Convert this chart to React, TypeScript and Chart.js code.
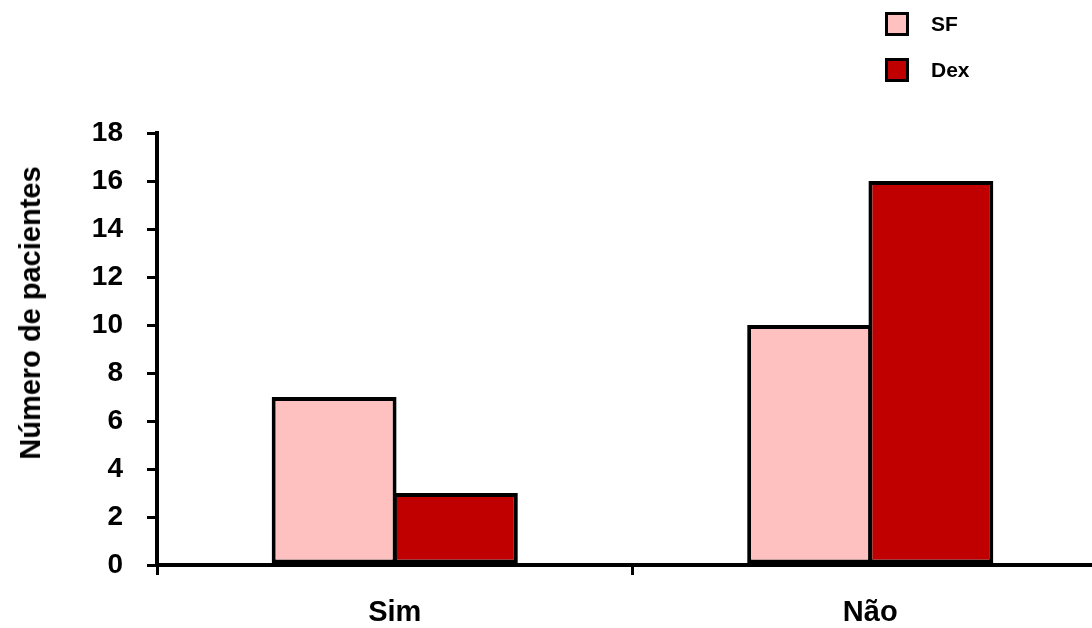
import React, { useEffect, useRef } from 'react';
import { Chart, registerables } from 'chart.js';

Chart.register(...registerables);

const categories = ['Sim', 'Não'];
const seriesNames = ['SF', 'Dex'];
const sfValues = [7, 10];
const dexValues = [3, 16];
const seriesColors = ['#FFC0C0', '#C00000'];
const yMin = 0;
const yMax = 18;
const yStep = 2;
const yTitle = 'Número de pacientes';

const FONT = "'Liberation Sans', Arial, Helvetica, sans-serif";

export default function App() {
  const ref = useRef<HTMLCanvasElement>(null);

  useEffect(() => {
    document.body.style.margin = '0';
    const canvas = ref.current!;
    const chart = new Chart(canvas, {
      type: 'bar',
      data: {
        labels: categories,
        datasets: [
          {
            label: seriesNames[0],
            data: sfValues,
            backgroundColor: seriesColors[0],
            borderColor: '#000',
            borderWidth: 4,
            borderSkipped: false,
          },
          {
            label: seriesNames[1],
            data: dexValues,
            backgroundColor: seriesColors[1],
            borderColor: '#000',
            borderWidth: 4,
            borderSkipped: false,
          },
        ],
      },
      options: {
        responsive: false,
        animation: false,
        datasets: { bar: { categoryPercentage: 0.51, barPercentage: 1.03 } },
        layout: { padding: { left: 0, right: 2, top: 133, bottom: 0 } },
        plugins: { legend: { display: false }, tooltip: { enabled: false } },
        scales: {
          x: {
            offset: true,
            grid: {
              offset: true,
              drawOnChartArea: false,
              drawTicks: true,
              tickLength: 10,
              color: '#000',
              lineWidth: 3,
            },
            border: { display: true, color: '#000', width: 4, z: 1 },
            ticks: {
              color: '#000',
              font: { family: FONT, weight: 'bold', size: 29 },
              padding: 21,
            },
            afterFit: (s: any) => {
              s.height = 63;
            },
          },
          y: {
            min: yMin,
            max: yMax,
            grid: {
              drawOnChartArea: false,
              drawTicks: true,
              tickLength: 10,
              color: '#000',
              lineWidth: 3,
            },
            border: { display: true, color: '#000', width: 4 },
            ticks: {
              stepSize: yStep,
              color: '#000',
              font: { family: FONT, weight: 'bold', size: 28 },
              padding: 24,
            },
            afterFit: (s: any) => {
              s.width = 157;
            },
          },
        },
      },
    });
    return () => chart.destroy();
  }, []);

  const legendBox = (color: string): React.CSSProperties => ({
    position: 'absolute',
    left: 0,
    top: 0,
    width: 18,
    height: 18,
    border: '3px solid #000',
    background: color,
  });

  return (
    <div style={{ position: 'relative', width: 1092, height: 628, overflow: 'hidden', background: '#fff' }}>
      <canvas ref={ref} width={1110} height={628} style={{ display: 'block', width: 1110, height: 628 }} />
      <div
        style={{
          position: 'absolute',
          left: 30,
          top: 313,
          transform: 'translate(-50%, -50%) rotate(-90deg)',
          whiteSpace: 'nowrap',
          fontFamily: FONT,
          fontWeight: 'bold',
          fontSize: 29,
          lineHeight: '34px',
          color: '#000',
        }}
      >
        {yTitle}
      </div>
      {seriesNames.map((name, i) => (
        <div
          key={name}
          style={{ position: 'absolute', left: 885, top: 12 + i * 46, width: 120, height: 24 }}
        >
          <div style={legendBox(seriesColors[i])} />
          <div
            style={{
              position: 'absolute',
              left: 46,
              top: 0,
              lineHeight: '24px',
              fontFamily: FONT,
              fontWeight: 'bold',
              fontSize: 21,
              color: '#000',
            }}
          >
            {name}
          </div>
        </div>
      ))}
    </div>
  );
}
